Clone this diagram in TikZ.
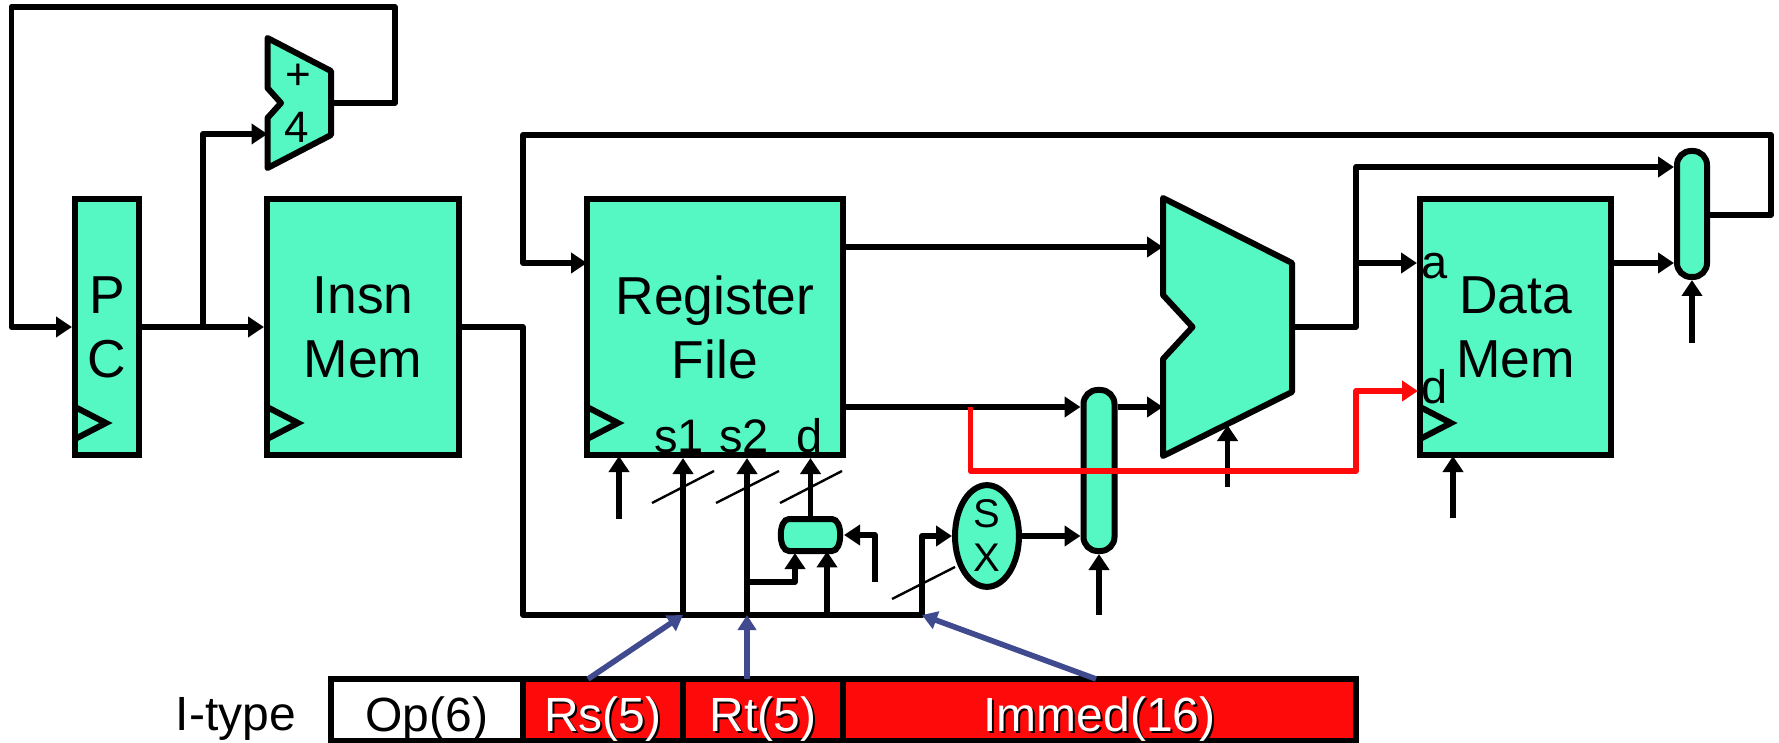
\documentclass[tikz,border=0pt]{standalone}
\usepackage{fontspec}
\setmainfont{Liberation Sans}
\usepackage{tikz}
\usetikzlibrary{arrows.meta,shapes.geometric}
\definecolor{blockgreen}{HTML}{55F7C3}
\definecolor{fieldred}{HTML}{FF0A0A}
\definecolor{pickblue}{HTML}{3F4A8F}
\newcommand{\shadowed}[1]{\rlap{\kern1pt\raisebox{-1pt}{\color{black}#1}}#1}
\tikzset{
  block/.style={draw,line width=3pt,fill=blockgreen,font=\fontsize{26.7}{32}\selectfont,align=center,inner sep=0pt},
  muxbox/.style={block,rounded corners=7pt},
  field/.style={draw,line width=3pt,inner sep=0pt,text height=26pt,text depth=5pt,font=\fontsize{24}{28}\selectfont},
  wire/.style={line width=2.9pt,line join=round,-{Triangle[length=8pt,width=10pt]}},
  redwire/.style={wire,draw=fieldred},
  pick/.style={line width=2.8pt,draw=pickblue,-{Triangle[length=7.5pt,width=9pt]}},
  slash/.style={line width=1.2pt},
  port/.style={font=\fontsize{23.5}{28}\selectfont,inner sep=0pt}
}
\begin{document}
\begin{tikzpicture}[x=0.5pt,y=-0.5pt]
\useasboundingbox (0,0) rectangle (1779,743);
% blocks
\node[block,minimum width=32pt,minimum height=128pt] (pc) at (107,327) {P\\C};
\node[block,minimum width=96pt,minimum height=128pt] (insn) at (363,327) {Insn\\Mem};
\node[block,minimum width=128pt,minimum height=128pt] (regfile) at (715,327) {Register\\File};
\node[block,minimum width=95.5pt,minimum height=128pt] (datamem) at (1515.5,327) {Data\\Mem};
% clock marks
\draw[line width=3pt] (75,407) -- (106,423) -- (75,439);
\draw[line width=3pt] (267,407) -- (298,423) -- (267,439);
\draw[line width=3pt] (587,407) -- (618,423) -- (587,439);
\draw[line width=3pt] (1420,407) -- (1451,423) -- (1420,439);
% adder
\draw[line width=3pt,line join=round,fill=blockgreen] (267.5,38) -- (331,71) -- (331,135) -- (267.5,168) -- (267.5,118) -- (281,103) -- (267.5,88) -- cycle;
\node[font=\fontsize{22}{26}\selectfont,inner sep=0pt] (plus) at (298,77) {+};
\node[font=\fontsize{22}{26}\selectfont,inner sep=0pt] (four) at (297,127) {4};
% alu
\draw[line width=3pt,line join=round,fill=blockgreen] (1163,198) -- (1292,263) -- (1292,392) -- (1163,456) -- (1163,359) -- (1192.5,327) -- (1163,295) -- cycle;
% muxes
\draw[line width=3pt,fill=blockgreen] (789,519) -- (832,519) .. controls (843,519) and (843,551) .. (832,551) -- (789,551) .. controls (778,551) and (778,519) .. (789,519) -- cycle;
\node[minimum width=30pt,minimum height=16pt,inner sep=0pt] (regmux) at (810.5,535) {};
\node[muxbox,minimum width=15.5pt,minimum height=80.5pt] (alumux) at (1099,470.5) {};
\node[muxbox,minimum width=15pt,minimum height=63pt] (wbmux) at (1692,214) {};
\node[draw,ellipse,line width=3pt,fill=blockgreen,minimum width=32pt,minimum height=46.5pt,inner sep=0pt,align=center,font=\fontsize{20}{22}\selectfont] (sx) at (987,536) {S\\X};
% port labels
\node[port,anchor=base] (sone) at (679,452) {s1};
\node[port,anchor=base] (stwo) at (744,452) {s2};
\node[port,anchor=base] (dreg) at (810,452) {d};
\node[port,anchor=base] (amem) at (1435,279) {a};
\node[port,anchor=base] (dmem) at (1435,404) {d};
% named points
\coordinate (pcback) at (11.5,327);
\coordinate (pctop) at (11.5,7);
\coordinate (addtop) at (395,7);
\coordinate (addback) at (395,103);
\coordinate (addout) at (331,103);
\coordinate (pcsplit) at (203,327);
\coordinate (addin) at (267.5,134);
\coordinate (bustop) at (523,327);
\coordinate (buscorner) at (523,615);
\coordinate (busone) at (683,615);
\coordinate (bustwo) at (747,615);
\coordinate (busthree) at (827,615);
\coordinate (busend) at (922,615);
\coordinate (regfeed) at (587,263);
\coordinate (aluina) at (1163,247);
\coordinate (aluinb) at (1163,407);
\coordinate (aluout) at (1292,327);
\coordinate (alusplit) at (1356,263);
\coordinate (alucorner) at (1356,327);
\coordinate (wbout) at (1771,215);
\coordinate (wbtop) at (1771,135);
\coordinate (fbcorner) at (523,135);
\coordinate (fbdown) at (523,263);
\coordinate (redstart) at (970.5,407);
\coordinate (redone) at (970.5,471);
\coordinate (redtwo) at (1356,471);
\coordinate (redthree) at (1356,391);
\coordinate (redend) at (1418,391);
% pc and adder wires
\draw[wire] (addout) -- (addback) -- (addtop) -- (pctop) -- (pcback) -- (pc.west);
\draw[wire] (pc.east) -- (insn.west);
\draw[wire] (pcsplit) -- (pcsplit |- addin) -- (addin);
% register feedback
\draw[wire] (wbmux.east |- wbout) -- (wbout) -- (wbtop) -- (fbcorner) -- (fbdown) -- (regfeed);
% instruction bus
\draw[wire] (insn.east) -- (bustop) -- (buscorner) -- (busend) -- (busend |- sx.west) -- (sx.west);
\draw[wire] (busone) -- (busone |- regfile.south);
\draw[wire] (bustwo) -- (bustwo |- regfile.south);
\draw[wire] (busthree) -- (busthree |- regmux.south);
\draw[wire] (747,582) -- (795,582) -- (795,553);
\draw[wire] (regmux.north) -- (regmux.north |- regfile.south);
\draw[wire] (875,582) -- (875,535) -- (844,535);
% control arrows
\draw[wire] (619,519) -- (619,456);
\draw[wire] (1099,615) -- (alumux.south);
\draw[wire] (1227.5,487) -- (1227.5,425);
\draw[wire] (1453,518) -- (1453,456);
\draw[wire] (1692,343) -- (wbmux.south);
% bus width slashes
\draw[slash] (652,503) -- (714,471);
\draw[slash] (716,503) -- (779,471);
\draw[slash] (780,503) -- (842,471);
\draw[slash] (892,599) -- (955,567);
% datapath wires
\draw[wire] (regfile.east |- aluina) -- (aluina);
\draw[wire] (regfile.east |- aluinb) -- (alumux.west |- aluinb);
\draw[wire] (alumux.east |- aluinb) -- (aluinb);
\draw[wire] (sx.east) -- (alumux.west |- sx.east);
\draw[wire] (aluout) -- (alucorner) -- (1356,167) -- (wbmux.west |- 0,167);
\draw[wire] (alusplit) -- (datamem.west |- alusplit);
\draw[wire] (datamem.east |- alusplit) -- (wbmux.west |- alusplit);
\draw[redwire] (redstart) -- (redone) -- (redtwo) -- (redthree) -- (redend);
% instruction format
\node[field,fill=white,minimum width=96pt] (opfield) at (427,710) {Op(6)};
\node[field,fill=fieldred,minimum width=80pt,text=white] (rsfield) at (603,710) {\shadowed{Rs(5)}};
\node[field,fill=fieldred,minimum width=80pt,text=white] (rtfield) at (763,710) {\shadowed{Rt(5)}};
\node[field,fill=fieldred,minimum width=256.5pt,text=white] (immfield) at (1099.5,710) {\shadowed{Immed(16)}};
\node[font=\fontsize{24}{26}\selectfont,inner sep=0pt,anchor=base] (itype) at (236,730) {I-type};
% field pick arrows
\coordinate (rspick) at (588,679);
\coordinate (rtpick) at (747,679);
\coordinate (immpick) at (1096,679);
\draw[pick] (rspick) -- (busone);
\draw[pick] (rtpick) -- (bustwo);
\draw[pick] (immpick) -- (busend);
\end{tikzpicture}
\end{document}
